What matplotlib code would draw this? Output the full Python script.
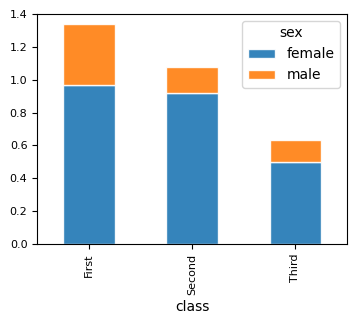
import numpy as np
import matplotlib
matplotlib.use("Agg")
import matplotlib.pyplot as plt

classes = ["First", "Second", "Third"]
female = [0.968, 0.921, 0.500]
male = [0.369, 0.157, 0.135]

fig = plt.figure(figsize=(3.57, 3.24), dpi=100)
ax = fig.add_axes([0.104, 0.247, 0.868, 0.71])

ind = np.arange(len(classes))
ax.bar(ind, female, 0.5, color="tab:blue", alpha=0.9, edgecolor="white", label="female")
ax.bar(ind, male, 0.5, bottom=female, color="tab:orange", alpha=0.9, edgecolor="white", label="male")

ax.set_xlim(-0.5, 2.5)
ax.set_ylim(0, 1.4)
ax.set_xticks(ind)
ax.set_xticklabels(classes, rotation=90, fontsize=8)
ax.tick_params(axis="y", labelsize=8)
ax.set_xlabel("class", fontsize=10)
ax.legend(title="sex", loc="upper right", fontsize=10, title_fontsize=10)

fig.savefig("out.png", dpi=100)
